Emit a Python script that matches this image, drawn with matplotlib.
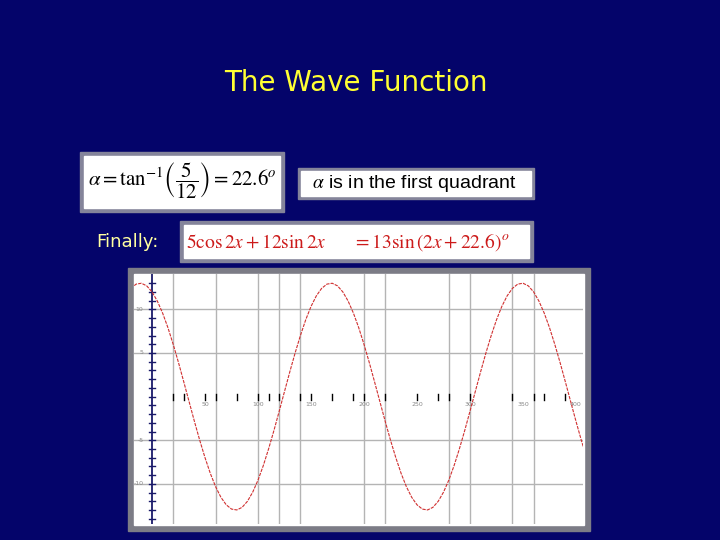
import matplotlib
matplotlib.use("Agg")
import matplotlib.pyplot as plt
from matplotlib.patches import Rectangle

plt.rcParams['mathtext.fontset'] = 'stix'

# curve (degrees -> value), every 5 degrees
x_deg = list(range(-20, 415, 5))
y_val = [12.40, 12.89, 12.99, 12.69, 12.00, 10.95, 9.57, 7.90, 5.98, 3.89, 1.67, -0.59,
         -2.84, -5.00, -7.00, -8.80, -10.33, -11.54, -12.40, -12.89, -12.99, -12.69,
         -12.00, -10.95, -9.57, -7.90, -5.98, -3.89, -1.67, 0.59, 2.84, 5.00, 7.00,
         8.80, 10.33, 11.54,
         12.40, 12.89, 12.99, 12.69, 12.00, 10.95, 9.57, 7.90, 5.98, 3.89, 1.67, -0.59,
         -2.84, -5.00, -7.00, -8.80, -10.33, -11.54, -12.40, -12.89, -12.99, -12.69,
         -12.00, -10.95, -9.57, -7.90, -5.98, -3.89, -1.67, 0.59, 2.84, 5.00, 7.00,
         8.80, 10.33, 11.54,
         12.40, 12.89, 12.99, 12.69, 12.00, 10.95, 9.57, 7.90, 5.98, 3.89, 1.67, -0.59,
         -2.84, -5.00, -7.00]

x_labels = [50, 100, 150, 200, 250, 300, 350, 400]
x_ticks = [20, 30, 50, 60, 80, 100, 110, 120, 140, 150, 170, 190, 200, 220, 250,
           270, 280, 300, 340, 360, 370, 390]
x_grid = [20, 60, 100, 120, 140, 200, 220, 280, 300, 340, 360]
y_labels = [10, 5, -5, -10]
y_ticks = list(range(-14, 14))

title = "The Wave Function"
box1_text = r'$\alpha = \mathrm{tan}^{-1}\left(\dfrac{5}{12}\right) = 22.6^{o}$'
box2_text = r'$\alpha$ is in the first quadrant'
box3_text = r'$5\cos 2x + 12\sin 2x \quad\quad = 13\sin\left(2x + 22.6\right)^{o}$'

navy = '#04046a'
fig = plt.figure(figsize=(7.2, 5.4), dpi=100)
fig.patch.set_facecolor(navy)

# overlay in pixel coords for slide furniture
ov = fig.add_axes([0, 0, 1, 1])
ov.set_xlim(0, 720)
ov.set_ylim(540, 0)
ov.axis('off')
ov.patch.set_alpha(0)


def box(x0, y0, x1, y1, b, edge='#84849a'):
    ov.add_patch(Rectangle((x0, y0), x1 - x0, y1 - y0, color=edge, zorder=1))
    ov.add_patch(Rectangle((x0 + b, y0 + b), x1 - x0 - 2 * b, y1 - y0 - 2 * b,
                           color='white', zorder=2))


box(80, 152, 284, 212, 4)
box(298, 168, 534, 199, 3)
box(180, 221, 533, 262, 4)
box(128, 268, 590, 531, 6, edge='#7c7c86')

ov.text(356, 83, title, color='#ffff33', fontsize=20, ha='center', va='center',
        family='DejaVu Sans')
ov.text(127, 242, "Finally:", color='#ffffa0', fontsize=13, ha='center', va='center',
        family='DejaVu Sans')
ov.text(182, 181, box1_text, fontsize=15, ha='center', va='center', zorder=3)
ov.text(414, 183, box2_text, fontsize=14, ha='center', va='center', zorder=3,
        family='Liberation Sans')
ov.text(348, 242, box3_text, fontsize=14, ha='center', va='center', zorder=3,
        color='#cc1a1a')

# the graph
ax = fig.add_axes([134 / 720, (540 - 524) / 540, 449 / 720, 250 / 540])
ax.set_facecolor('white')
ax.set_xlim(-17, 406.6)
ax.set_ylim(-14.6, 14.05)
for s in ax.spines.values():
    s.set_visible(False)
ax.set_xticks([])
ax.set_yticks([])

for g in x_grid:
    ax.axvline(g, color='#b4b4b4', lw=1.0, zorder=1)
for g in y_labels:
    ax.axhline(g, color='#b4b4b4', lw=1.0, zorder=1)

ax.axvline(0, color='#1a1a6a', lw=1.3, zorder=3)
for t in x_ticks:
    ax.plot([t, t], [-0.35, 0.35], color='black', lw=1.0, zorder=3)
for t in y_ticks:
    ax.plot([-2.8, 2.8], [t, t], color='#1a1a6a', lw=1.0, zorder=3)

for v in x_labels:
    ax.text(v, -0.6, str(v), fontsize=4.5, color='#888888', ha='center', va='top')
for v in y_labels:
    ax.text(-8, v, str(v), fontsize=4.5, color='#888888', ha='right', va='center')

ax.plot(x_deg, y_val, color='#d03030', lw=0.8, ls=(0, (3, 1)), zorder=4)

fig.savefig('out.png', dpi=100, facecolor=navy)
